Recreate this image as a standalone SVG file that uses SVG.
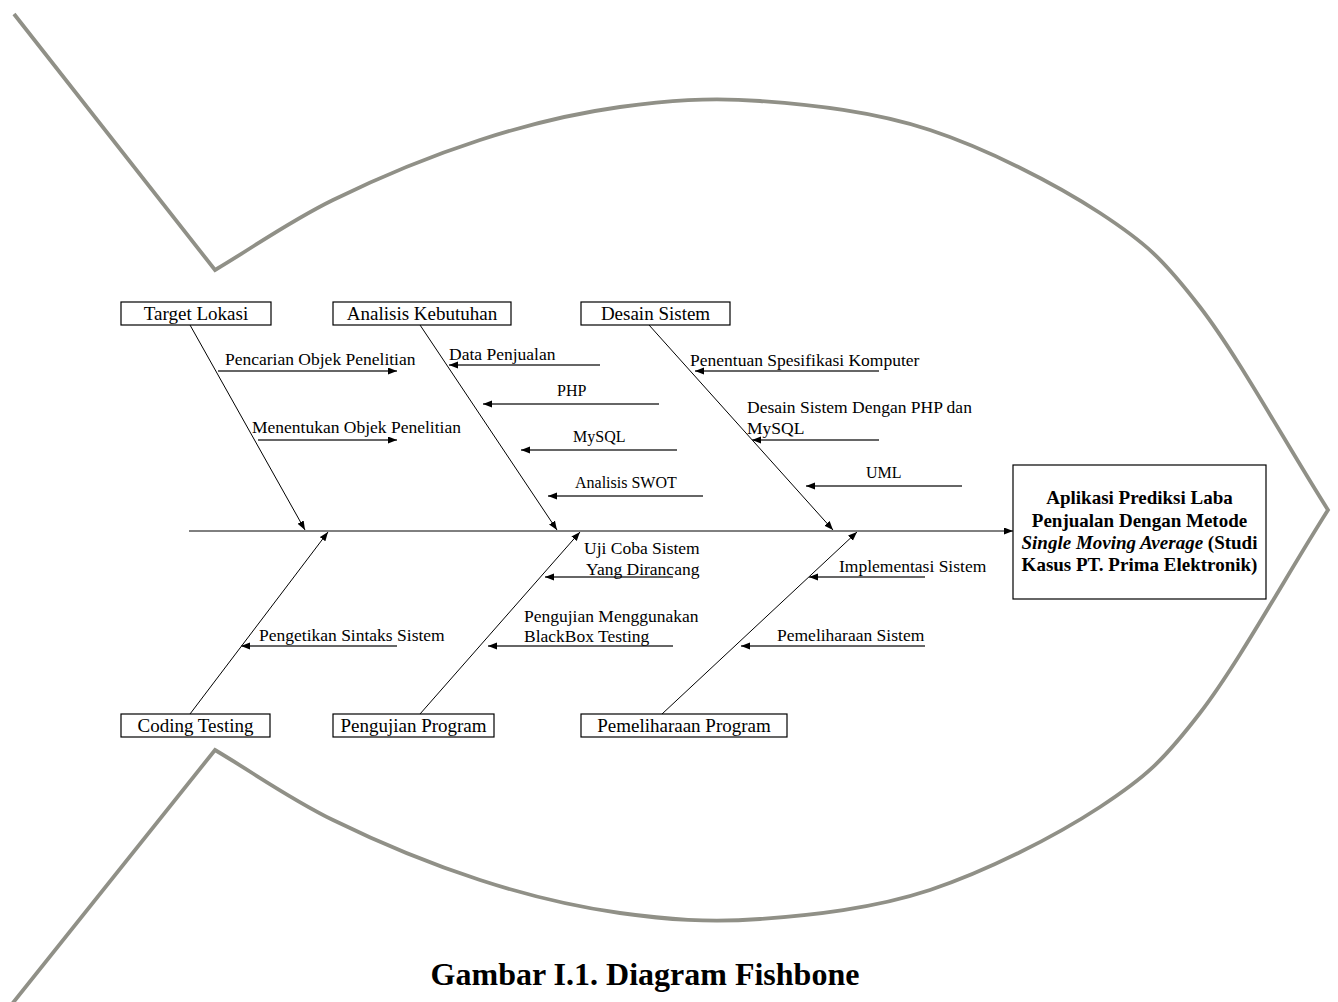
<svg xmlns="http://www.w3.org/2000/svg" width="1338" height="1002" viewBox="0 0 1338 1002">
<defs>
<marker id="ah" markerUnits="userSpaceOnUse" markerWidth="10" markerHeight="8" refX="9" refY="3.5" orient="auto">
<path d="M0,0 L9,3.5 L0,7 z" fill="#000"/>
</marker>
</defs>
<style>
.fish{fill:none;stroke:#909087;stroke-width:3.8;stroke-linejoin:miter}
.box{fill:#fff;stroke:#000;stroke-width:1.2}
.lbl{font-family:"Liberation Serif","Times New Roman",serif;font-size:19px;fill:#000;text-anchor:middle}
.rt{font-family:"Liberation Serif","Times New Roman",serif;font-size:17.5px;fill:#000}
.rs{font-family:"Liberation Serif","Times New Roman",serif;font-size:16px;fill:#000}
.bone{stroke:#000;stroke-width:1;fill:none}
.rib{stroke:#333;stroke-width:1.3;fill:none}
.head{font-family:"Liberation Serif","Times New Roman",serif;font-size:19px;font-weight:bold;fill:#000;text-anchor:middle}
.title{font-family:"Liberation Serif","Times New Roman",serif;font-size:32px;font-weight:bold;fill:#000;text-anchor:middle}
</style>
<rect width="1338" height="1002" fill="#fff"/>

<g id="fish-outline">
<path class="fish" d="M14,14 L215,270 C254.3,246.7 288.8,221.7 333,200 C377.2,178.3 432.2,155.5 480,140 C527.8,124.5 573.3,113.5 620,107 C666.7,100.5 708.3,97.2 760,101 C811.7,104.8 873.3,111.3 930,130 C986.7,148.7 1055,183.5 1100,213 C1145,242.5 1162,257.7 1200,307 C1238,356.3 1285.3,442.7 1328,510 C1285.3,577.3 1238,663.7 1200,713 C1162,762.3 1145,777.5 1100,807 C1055,836.5 986.7,871.3 930,890 C873.3,908.7 811.7,915.2 760,919 C708.3,922.8 666.7,919.5 620,913 C573.3,906.5 527.8,895.5 480,880 C432.2,864.5 377.2,841.7 333,820 C288.8,798.3 254.3,773.3 215,750 L12,1004"/>
</g>

<g id="connectors">
<line class="bone" x1="189" y1="531" x2="1013" y2="531" marker-end="url(#ah)"/>
<line class="bone" x1="190" y1="325" x2="305" y2="530" marker-end="url(#ah)"/>
<line class="bone" x1="420" y1="325" x2="557" y2="530" marker-end="url(#ah)"/>
<line class="bone" x1="649" y1="325" x2="833" y2="530" marker-end="url(#ah)"/>
<line class="bone" x1="190" y1="714" x2="328" y2="532" marker-end="url(#ah)"/>
<line class="bone" x1="420" y1="714" x2="580" y2="532" marker-end="url(#ah)"/>
<line class="bone" x1="662" y1="714" x2="857" y2="532" marker-end="url(#ah)"/>

<line class="rib" x1="218" y1="371" x2="397" y2="371" marker-end="url(#ah)"/>
<line class="rib" x1="258" y1="440" x2="397" y2="440" marker-end="url(#ah)"/>

<line class="rib" x1="600" y1="365" x2="449" y2="365" marker-end="url(#ah)"/>
<line class="rib" x1="659" y1="404" x2="483" y2="404" marker-end="url(#ah)"/>
<line class="rib" x1="677" y1="450" x2="521" y2="450" marker-end="url(#ah)"/>
<line class="rib" x1="703" y1="496" x2="548" y2="496" marker-end="url(#ah)"/>

<line class="rib" x1="879" y1="371" x2="695" y2="371" marker-end="url(#ah)"/>
<line class="rib" x1="879" y1="440" x2="752" y2="440" marker-end="url(#ah)"/>
<line class="rib" x1="962" y1="486" x2="806" y2="486" marker-end="url(#ah)"/>

<line class="rib" x1="397" y1="646" x2="241" y2="646" marker-end="url(#ah)"/>
<line class="rib" x1="673" y1="577" x2="545" y2="577" marker-end="url(#ah)"/>
<line class="rib" x1="673" y1="646" x2="488" y2="646" marker-end="url(#ah)"/>
<line class="rib" x1="925" y1="577" x2="809" y2="577" marker-end="url(#ah)"/>
<line class="rib" x1="925" y1="646" x2="741" y2="646" marker-end="url(#ah)"/>
</g>

<g id="rib-labels">
<text class="rt" x="225" y="365">Pencarian Objek Penelitian</text>
<text class="rt" x="252" y="433">Menentukan Objek Penelitian</text>
<text class="rt" x="449" y="360">Data Penjualan</text>
<text class="rs" x="557" y="396">PHP</text>
<text class="rs" x="573" y="442">MySQL</text>
<text class="rs" x="575" y="488">Analisis SWOT</text>
<text class="rt" x="690" y="366">Penentuan Spesifikasi Komputer</text>
<text class="rt" x="747" y="413">Desain Sistem Dengan PHP dan</text>
<text class="rt" x="747" y="434">MySQL</text>
<text class="rs" x="866" y="478">UML</text>
<text class="rt" x="259" y="641">Pengetikan Sintaks Sistem</text>
<text class="rt" x="584" y="554">Uji Coba Sistem</text>
<text class="rt" x="586" y="575">Yang Dirancang</text>
<text class="rt" x="524" y="622">Pengujian Menggunakan</text>
<text class="rt" x="524" y="642">BlackBox Testing</text>
<text class="rt" x="839" y="572">Implementasi Sistem</text>
<text class="rt" x="777" y="641">Pemeliharaan Sistem</text>
</g>

<g id="node-target-lokasi">
<rect class="box" x="121" y="302" width="150" height="23"/>
<text class="lbl" x="196" y="320">Target Lokasi</text>
</g>
<g id="node-analisis-kebutuhan">
<rect class="box" x="333" y="302" width="178" height="23"/>
<text class="lbl" x="422" y="320">Analisis Kebutuhan</text>
</g>
<g id="node-desain-sistem">
<rect class="box" x="581" y="302" width="149" height="23"/>
<text class="lbl" x="655.5" y="320">Desain Sistem</text>
</g>
<g id="node-coding-testing">
<rect class="box" x="121" y="714" width="149" height="23"/>
<text class="lbl" x="195.5" y="732">Coding Testing</text>
</g>
<g id="node-pengujian-program">
<rect class="box" x="333" y="714" width="161" height="23"/>
<text class="lbl" x="413.5" y="732">Pengujian Program</text>
</g>
<g id="node-pemeliharaan-program">
<rect class="box" x="581" y="714" width="206" height="23"/>
<text class="lbl" x="684" y="732">Pemeliharaan Program</text>
</g>

<g id="node-head">
<rect class="box" x="1013" y="465" width="253" height="134"/>
<text class="head" x="1139.5" y="504">Aplikasi Prediksi Laba</text>
<text class="head" x="1139.5" y="527">Penjualan Dengan Metode</text>
<text class="head" x="1139.5" y="549"><tspan font-style="italic">Single Moving Average</tspan> (Studi</text>
<text class="head" x="1139.5" y="571">Kasus PT. Prima Elektronik)</text>
</g>

<g id="caption">
<text class="title" x="645" y="985">Gambar I.1. Diagram Fishbone</text>
</g>
</svg>
